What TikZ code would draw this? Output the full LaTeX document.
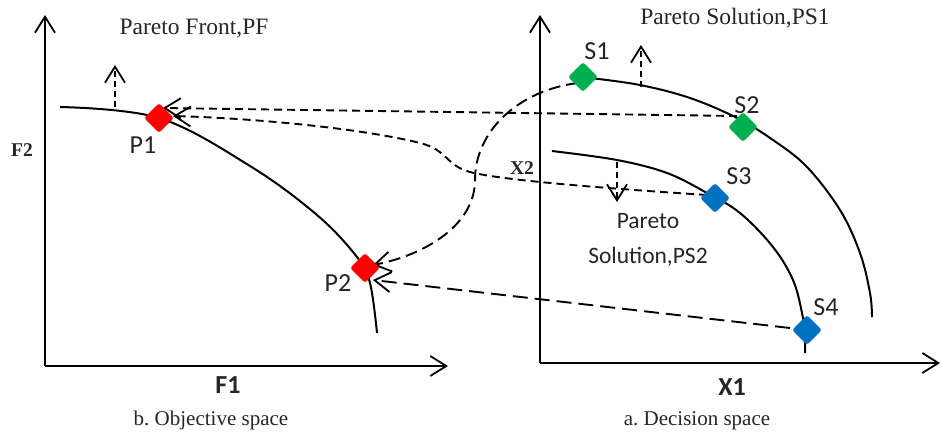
\documentclass[tikz,border=0pt]{standalone}
\usepackage{fontspec}
\setmainfont{Liberation Serif}
\newfontfamily\calfont{Carlito}
\usetikzlibrary{arrows.meta}
\definecolor{pred}{HTML}{FF0000}
\definecolor{pgreen}{HTML}{00B050}
\definecolor{pblue}{HTML}{0070C0}
\definecolor{txt}{HTML}{262626}
\pgfdeclarelayer{back}
\pgfdeclarelayer{bg}
\pgfsetlayers{back,bg,main}
\frenchspacing
\begin{document}
\begin{tikzpicture}[x=1pt,y=-1pt,
  barb/.tip={Straight Barb[length=16pt,width=20pt,line width=1.8pt]},
  axis/.style={line width=2pt,-barb},
  curve/.style={line width=2pt},
  dsh/.style={line width=1.9pt,dash pattern=on 8pt off 5pt,-barb},
  dshlong/.style={line width=1.9pt,dash pattern=on 12pt off 6pt,-barb},
  dshshort/.style={line width=1.7pt,dash pattern=on 6pt off 4pt,-barb},
  dia/.style={rectangle,rotate=45,minimum size=21pt,inner sep=0pt,rounded corners=2.5pt},
  lab/.style={font=\calfont\fontsize{26}{30}\selectfont,text=txt,anchor=base,inner sep=0pt},
  sublab/.style={font=\calfont\fontsize{23.5}{28}\selectfont,text=txt,anchor=base,inner sep=0pt},
  axlab/.style={font=\calfont\bfseries\fontsize{26}{30}\selectfont,text=txt,anchor=base,inner sep=0pt},
  saxlab/.style={font=\bfseries\fontsize{19.5}{22}\selectfont,text=txt,anchor=base,inner sep=0pt},
  ttl/.style={font=\fontsize{23.5}{28}\selectfont,text=txt,anchor=base,inner sep=0pt},
  captext/.style={font=\fontsize{21}{25}\selectfont,text=txt,anchor=base,inner sep=0pt}]
\useasboundingbox (0,0) rectangle (941,432);
\begin{pgfonlayer}{back}
\fill[white] (0,0) rectangle (941,432);
\end{pgfonlayer}

% axes
\coordinate (O1) at (45,366);
\coordinate (O2) at (540,363);
\coordinate (F2top) at (45,15);
\coordinate (F1end) at (448,366);
\coordinate (X2top) at (540,15);
\coordinate (X1end) at (940,363);
\draw[axis] (O1) -- (F2top);
\draw[axis] (O1) -- (F1end);
\draw[axis] (O2) -- (X2top);
\draw[axis] (O2) -- (X1end);

% points
\node[dia,fill=pred] (P1) at (159,118) {};
\node[dia,fill=pred] (P2) at (365,268) {};
\node[dia,fill=pgreen] (S1) at (583,77) {};
\node[dia,fill=pgreen] (S2) at (743,127) {};
\node[dia,fill=pblue] (S3) at (715,198) {};
\node[dia,fill=pblue] (S4) at (807,330) {};

\begin{pgfonlayer}{bg}
% fronts
\draw[curve] plot[smooth,tension=0.6] coordinates {(60,107) (159,118) (250,166) (317,215) (357,257) (370,283) (377,333)};
\draw[curve] plot[smooth,tension=0.6] coordinates {(590,78) (640,85) (690,98) (737,118) (773,140) (807,167) (840,210) (860,253) (870,293) (872,317)};
\draw[curve] plot[smooth,tension=0.6] coordinates {(552,151) (617,160) (667,173) (707,193) (740,213) (773,247) (793,280) (802,313) (805,335) (805,353)};

% small direction arrows
\coordinate (a1) at (115,107);
\coordinate (a1t) at (115,65);
\coordinate (a2) at (641,87);
\coordinate (a2t) at (641,45);
\coordinate (a3) at (617,162);
\coordinate (a3t) at (617,202);
\draw[dshshort] (a1) -- (a1t);
\draw[dshshort] (a2) -- (a2t);
\draw[dshshort] (a3) -- (a3t);

% mappings
\draw[dsh] ([xshift=-6pt,yshift=11pt]S2.center) -- ([xshift=4pt,yshift=10pt]P1.center);
\draw[dsh] ([xshift=-8pt,yshift=3pt]S3.center) .. controls (600,188) and (500,180) .. (470,172)
  .. controls (445,165) and (448,150) .. (420,143)
  .. controls (360,128) and (250,118) .. ([xshift=14pt,yshift=2pt]P1.center);
\draw[dshlong] ([xshift=-5pt,yshift=-6pt]S1.center) .. controls (520,90) and (475,130) .. (475,180)
  .. controls (475,225) and (425,255) .. ([xshift=8pt,yshift=3pt]P2.center);
\draw[dshlong,dash pattern=on 15pt off 7pt] ([xshift=-17pt,yshift=2pt]S4.center) -- ([xshift=8pt,yshift=-12pt]P2.center);
\end{pgfonlayer}

% labels
\node[ttl] (tPF) at (194,34) {Pareto Front,PF};
\node[ttl] (tPS1) at (735,24) {Pareto Solution,PS1};
\node[sublab] (tPS2a) at (648,228) {Pareto};
\node[sublab] (tPS2b) at (648,263) {Solution,PS2};
\node[lab] (lP1) at (143,153) {P1};
\node[lab] (lP2) at (338,291) {P2};
\node[lab] (lS1) at (597,59) {S1};
\node[lab] (lS2) at (747,113) {S2};
\node[lab] (lS3) at (739,184) {S3};
\node[lab] (lS4) at (826,315) {S4};
\node[saxlab] (lF2) at (22,156) {F2};
\node[saxlab] (lX2) at (522,174) {X2};
\node[axlab] (lF1) at (228,393) {F1};
\node[axlab] (lX1) at (732,395) {X1};
\node[captext] (cb) at (211,425) {b. Objective space};
\node[captext] (ca) at (697,425) {a. Decision space};
\end{tikzpicture}
\end{document}
